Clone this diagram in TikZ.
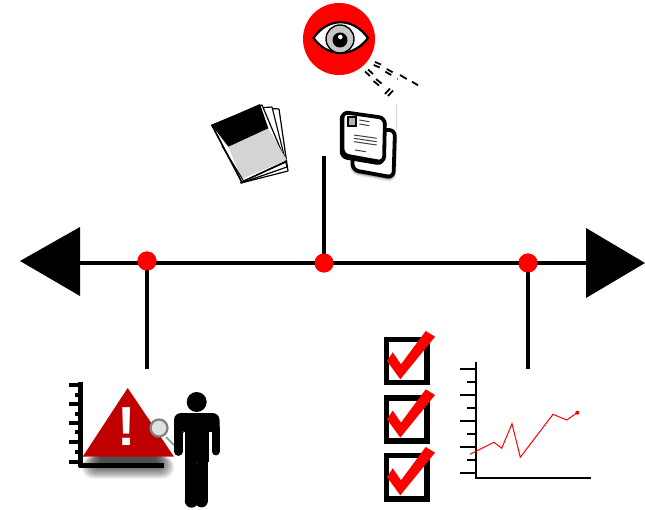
\documentclass[tikz,border=0pt]{standalone}
\usepackage{fontspec}
\setmainfont{Liberation Sans}
\usetikzlibrary{shadows.blur,calc}
\definecolor{alertred}{HTML}{C00000}
\tikzset{
  x=1pt,y=-1pt,
  stem/.style={line width=4.4pt,black},
  marker/.style={circle,fill=red,draw=none,minimum size=19pt,inner sep=0pt},
  tick/.style={line width=1.9pt},
  bigtick/.style={line width=4.6pt},
  box/.style={line width=5.4pt,draw=black,fill=white},
  chk/.style={fill=red,draw=none},
  dashm/.style={line width=1.8pt,black},
  card/.style={line width=3.8pt,fill=white,rounded corners=6pt,line join=round},
  txtline/.style={line width=1pt,black!75},
  page/.style={line width=1.2pt,fill=white,line join=round},
}
\newcommand{\chkbox}[3]{%
  \begin{scope}[shift={(#1,#2)}]
    \draw[box] (0,0) rectangle (40.5,#3);
    \fill[chk] (0.5,21.5) -- (6.2,12.8) -- (14.5,24.8) -- (39.2,-8.5) -- (48.5,-2.8) -- (13.8,39.8) -- cycle;
  \end{scope}}
\begin{document}
\begin{tikzpicture}
\useasboundingbox (0,0) rectangle (645,510);
% timeline
\coordinate (tl) at (80,263);
\coordinate (tr) at (590,263);
\fill (20,261) -- (80,227) -- (80,296) -- cycle;
\fill (645,263) -- (586,228) -- (586,298) -- cycle;
\node[marker] (m1) at (147,261) {};
\node[marker] (m2) at (324,263) {};
\node[marker] (m3) at (528,263) {};
\coordinate (e1) at (147,369);
\coordinate (e2) at (324,156);
\coordinate (e3) at (528,369);
\draw[stem] (tl) -- (tr);
\draw[stem] (m1.center) -- (e1);
\draw[stem] (m2.center) -- (e2);
\draw[stem] (m3.center) -- (e3);
\foreach \m in {m1,m2,m3} \fill[red] (\m.center) circle (9.5);
% eye
\fill[red] (339,39) circle (36);
\draw[line width=2.2pt,fill=white] (313.5,38) .. controls (328,17) and (353,17) .. (368,38) .. controls (353,58) and (328,58) .. cycle;
\fill[black!22] (340,39) circle (14);
\draw[line width=1.4pt] (340,39) circle (14);
\fill[black] (340,40) circle (7.5);
\fill[white] (340.3,37) circle (2.3);
% rays
\draw[dashm] (375,62) -- (381,64.5) (373.7,65) -- (379.7,67.5);
\draw[dashm] (386.7,69) -- (392.7,72.3) (385.3,71.7) -- (391.3,75);
\draw[dashm] (400,75) -- (406.7,79);
\draw[dashm] (412,81.7) -- (418,85.3);
\draw[dashm] (365,71.5) -- (370,76) (368,69.5) -- (373,74);
\draw[dashm] (373.5,81) -- (379,85.5) (376,79) -- (381.5,83.5);
\draw[dashm] (385,94) -- (390,88.5) (388,96) -- (393,90.5);
\fill (397.5,79) circle (.7);
% folded documents
\draw[page] (241,183) -- (288,171) -- (279,109) -- (262,108) -- cycle;
\draw[page] (241,183) -- (287,167) -- (272,107) -- (258,108) -- cycle;
\draw[page] (241.7,182) -- (286,162) -- (262,105) -- (212,125) -- cycle;
\fill[black!17] (241.7,179) -- (286.7,160) -- (268.3,128.3) -- (228.3,146.7) -- cycle;
\fill[black] (211.7,125) -- (260,104) -- (268.3,128.3) -- (228.3,146.7) -- cycle;
\draw[line width=1.4pt] (211.7,125) -- (241.7,182) -- (286.7,161);
\draw[line width=1.1pt] (222,146) -- (243,180);
% paper stack
\draw[black!15,line width=1pt] (396,104) -- (396,130);
\draw[card,blur shadow={shadow xshift=0pt,shadow yshift=-2pt,shadow blur radius=3pt,shadow opacity=80}] (352.5,130) -- (395,130) -- (393.5,177.5) -- (352.5,170) -- cycle;
\draw[card,fill=black,line width=2.5pt] (341,113) -- (384,118) -- (383,164.5) -- (341,157.5) -- cycle;
\draw[card] (342.5,112) -- (385,118) -- (384,162.5) -- (342.5,155) -- cycle;
\draw[line width=2pt,fill=black!30] (347.5,117.5) rectangle (356,126);
\draw[txtline] (359.3,120) -- (369.3,121.7) (359.3,124) -- (369.3,125.7);
\draw[txtline] (354,135) -- (376.7,138.3) (354,138.3) -- (376.7,141.7) (354,141.7) -- (376.7,145);
\draw[txtline] (355,150) -- (365.7,151.7);
% alert chart shadow
\foreach \g in {18,16,14,12,10,8,6,4,2,0}{
  \fill[black,opacity=.11,rounded corners=\g*.6+1pt] (100-\g,456) rectangle (156+\g,463+\g*.85);
}
\draw[line width=4.4pt] (80.5,382) -- (80.5,467.3);
\draw[line width=4.4pt] (78.5,465.3) -- (164,465.3);
\foreach \y in {385,404,423,442,462} \draw[bigtick] (69,\y) -- (79,\y);
\foreach \y in {395,414,432,452} \draw[bigtick] (75,\y) -- (79,\y);
\fill[alertred] (82.7,456.7) -- (127.7,388) -- (174,456.7) -- cycle;
\node[text=white,font=\bfseries\fontsize{55}{55}\selectfont,inner sep=0pt] (bang) at (127,427) {!};
\draw[line width=1.6pt,black!45] (166,437) -- (178,449);
\draw[line width=2.2pt,black!50,fill=white!88!black] (159,428) circle (8.5);
% person
\fill (196.7,402) circle (10);
\fill[rounded corners=7pt] (174,436) -- (174,413) -- (219.5,413) -- (219.5,436) -- cycle;
\fill[white] (182.8,432) rectangle (185,445);
\fill[white] (209,432) rectangle (211.6,445);
\draw[line width=8.7pt,line cap=round] (178.4,428) -- (178.4,451.5);
\draw[line width=7.8pt,line cap=round] (215.6,428) -- (215.6,451.5);
\fill (185,425) rectangle (209,462);
\fill (185,460) rectangle (207.5,500);
\fill (191.5,501) circle (6.7);
\fill (201.5,501) circle (6.4);
\fill[red] (183.3,432) circle (1);
\fill[red] (197,463) circle (.6);
% checkboxes
\chkbox{386.5}{339.5}{43}
\chkbox{386.5}{397.8}{43}
\chkbox{386.5}{455.5}{43.5}
% line chart
\draw[line width=2pt] (475.7,362.3) -- (475.7,478) -- (591,478);
\foreach \y in {368.7,394.7,421,447,472.7} \draw[tick] (460,\y) -- (476,\y);
\foreach \y in {382,407.7,434,460} \draw[tick] (467.3,\y) -- (476,\y);
\draw[red,line width=1pt] (470,454.3) -- (494,442.3) -- (501.7,448.3) -- (512,423.7) -- (520.3,457.3) -- (553,414.3) -- (566.7,420) -- (577.3,412.7);
\fill[red] (577.3,412.7) circle (2);
\end{tikzpicture}
\end{document}
